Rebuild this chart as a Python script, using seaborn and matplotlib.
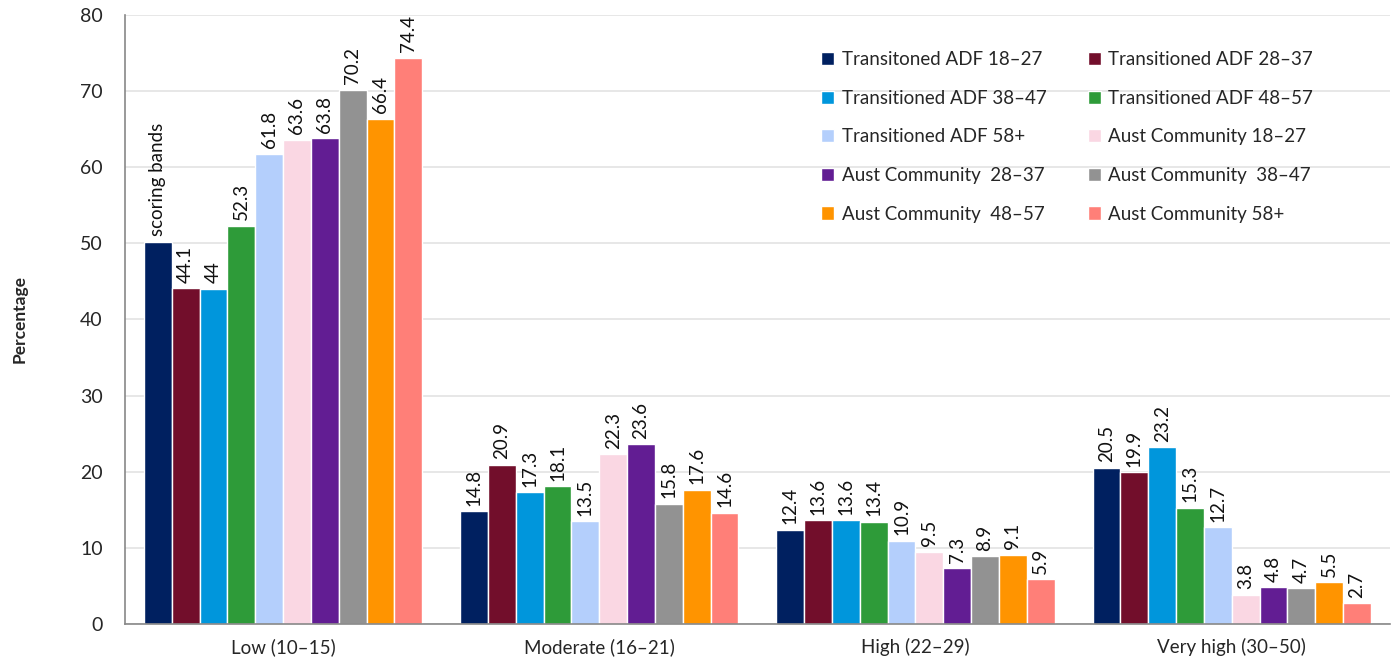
import numpy as np
import pandas as pd
import matplotlib
matplotlib.use("Agg")
import matplotlib.pyplot as plt
import seaborn as sns

# --- DATA ---
categories = ["Low (10\u201315)", "Moderate (16\u201321)", "High (22\u201329)", "Very high (30\u201350)"]
series = [
    "Transitoned ADF 18\u201327", "Transitioned ADF 28\u201337",
    "Transitioned ADF 38\u201347", "Transitioned ADF 48\u201357",
    "Transitioned ADF 58+", "Aust Community 18\u201327",
    "Aust Community  28\u201337", "Aust Community  38\u201347",
    "Aust Community  48\u201357", "Aust Community 58+",
]
values = [
    [50.2, 14.8, 12.4, 20.5],
    [44.1, 20.9, 13.6, 19.9],
    [44.0, 17.3, 13.6, 23.2],
    [52.3, 18.1, 13.4, 15.3],
    [61.8, 13.5, 10.9, 12.7],
    [63.6, 22.3, 9.5, 3.8],
    [63.8, 23.6, 7.3, 4.8],
    [70.2, 15.8, 8.9, 4.7],
    [66.4, 17.6, 9.1, 5.5],
    [74.4, 14.6, 5.9, 2.7],
]
# the source chart shows text instead of the number on the first bar
labels = [
    ["scoring bands", "14.8", "12.4", "20.5"],
    ["44.1", "20.9", "13.6", "19.9"],
    ["44", "17.3", "13.6", "23.2"],
    ["52.3", "18.1", "13.4", "15.3"],
    ["61.8", "13.5", "10.9", "12.7"],
    ["63.6", "22.3", "9.5", "3.8"],
    ["63.8", "23.6", "7.3", "4.8"],
    ["70.2", "15.8", "8.9", "4.7"],
    ["66.4", "17.6", "9.1", "5.5"],
    ["74.4", "14.6", "5.9", "2.7"],
]
colors = ["#002060", "#720E2B", "#0096DC", "#2E9B39", "#B4CFFC",
          "#FAD7E3", "#621D93", "#929292", "#FF9400", "#FF7F78"]

rows = []
for s, vals in zip(series, values):
    for c, v in zip(categories, vals):
        rows.append({"category": c, "series": s, "value": v})
df = pd.DataFrame(rows)

# --- PLOT ---
sns.set_style("white")
plt.rcParams["font.family"] = ["Lato", "DejaVu Sans"]

fig = plt.figure(figsize=(13.93, 6.67), dpi=100)
ax = fig.add_axes([0.0897, 0.0645, 0.908, 0.913])

sns.barplot(data=df, x="category", y="value", hue="series", order=categories,
            hue_order=series, palette=colors, width=0.88, gap=0,
            saturation=1, ax=ax, legend=True)

for cont, labs in zip(ax.containers, labels):
    ax.bar_label(cont, labels=labs, rotation=90, padding=4, fontsize=13.5, color="#111111")

ax.set_ylim(0, 80)
ax.set_yticks(np.arange(0, 81, 10))
ax.set_xlim(-0.5, len(categories) - 0.5)
ax.yaxis.grid(True, color="#e3e3e3", linewidth=1.2)
ax.set_axisbelow(True)

ax.set_xlabel("")
ax.set_ylabel("Percentage", fontsize=12.5, fontweight="bold", labelpad=38)
ax.tick_params(axis="y", labelsize=14, length=6, color="#888888", pad=10)
ax.tick_params(axis="x", labelsize=13.5, length=0, pad=10)
# category separators on the x axis
ax.set_xticks(np.arange(-0.5, len(categories)), minor=True)
ax.tick_params(axis="x", which="minor", length=6, color="#888888", direction="out")

for side in ["top", "right"]:
    ax.spines[side].set_visible(False)
for side in ["left", "bottom"]:
    ax.spines[side].set_color("#888888")
    ax.spines[side].set_linewidth(1.2)

# legend filled row by row, two columns
handles, texts = ax.get_legend_handles_labels()
order = [0, 2, 4, 6, 8, 1, 3, 5, 7, 9]
ax.legend([handles[i] for i in order], [texts[i] for i in order],
          loc="upper left", bbox_to_anchor=(0.537, 0.968), ncol=2, frameon=False,
          fontsize=13.5, handlelength=0.7, handleheight=0.7, handletextpad=0.4,
          columnspacing=2.2, labelspacing=1.15)

fig.savefig("out.png", dpi=100)
